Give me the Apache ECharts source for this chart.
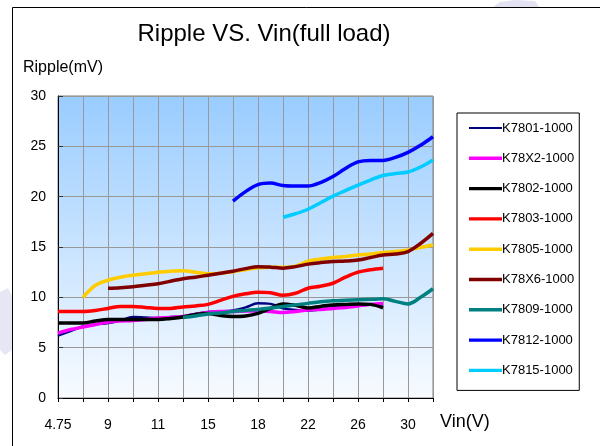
<!DOCTYPE html>
<html><head><meta charset="utf-8">
<script src="https://cdn.jsdelivr.net/npm/echarts@6/dist/echarts.min.js"></script>
<style>html,body{margin:0;padding:0;background:#fff}#c{width:600px;height:446px}</style>
</head><body><div id="c"></div>
<script>
// x positions in half-grid steps (31 points); labels shown at every 4th step
const xCats = ['0','1','2','3','4','5','6','7','8','9','10','11','12','13','14','15','16','17','18','19','20','21','22','23','24','25','26','27','28','29','30'];
const xTickLabels = ['4.75','9','11','15','18','22','26','30'];
const yTicks = [0,5,10,15,20,25,30];

const K7801 = [6.2,6.65,7.1,7.3,7.45,7.7,8.05,8.0,7.95,8.05,8.1,8.35,8.55,8.6,8.7,9.0,9.4,9.35,8.9,8.75,8.7,8.8,9.0,9.1,9.2,9.3,9.3,null,null,null,null];
const K78X2 = [6.45,6.8,7.05,7.3,7.55,7.65,7.7,7.8,7.95,8.0,8.1,8.3,8.5,8.6,8.6,8.65,8.65,8.6,8.5,8.6,8.75,8.8,8.9,9.0,9.15,9.3,9.4,null,null,null,null];
const K7802 = [7.45,7.45,7.45,7.65,7.8,7.8,7.8,7.8,7.8,7.9,8.05,8.3,8.4,8.2,8.1,8.15,8.4,8.9,9.35,9.2,8.95,9.1,9.25,9.3,9.35,9.3,8.95,null,null,null,null];
const K7803 = [8.6,8.6,8.6,8.7,8.9,9.1,9.1,9.0,8.9,8.9,9.05,9.15,9.3,9.7,10.1,10.35,10.5,10.45,10.2,10.4,10.9,11.1,11.4,12.0,12.5,12.75,12.9,null,null,null,null];
const K7805 = [null,null,10.0,11.2,11.7,12.0,12.2,12.35,12.5,12.6,12.65,12.5,12.35,12.4,12.55,12.75,12.95,13.0,13.0,13.1,13.6,13.8,13.95,14.05,14.2,14.3,14.45,14.55,14.7,14.95,15.2];
const K78X6 = [null,null,null,null,10.9,10.95,11.05,11.2,11.35,11.6,11.85,12.0,12.2,12.4,12.6,12.85,13.05,13.0,12.9,13.05,13.3,13.45,13.55,13.6,13.7,13.95,14.2,14.3,14.55,15.35,16.35];
const K7809 = [null,null,null,null,null,null,null,null,null,null,8.0,8.15,8.35,8.45,8.6,8.7,8.8,8.95,9.1,9.25,9.4,9.55,9.65,9.7,9.75,9.8,9.85,9.6,9.35,10.0,10.85];
const K7812 = [null,null,null,null,null,null,null,null,null,null,null,null,null,null,19.55,20.5,21.2,21.35,21.1,21.05,21.05,21.4,22.0,22.8,23.45,23.6,23.6,23.9,24.4,25.1,25.95];
const K7815 = [null,null,null,null,null,null,null,null,null,null,null,null,null,null,null,null,null,null,17.95,18.3,18.75,19.4,20.05,20.6,21.15,21.65,22.1,22.3,22.45,22.95,23.65];

const seriesNames = ['K7801-1000','K78X2-1000','K7802-1000','K7803-1000','K7805-1000','K78X6-1000','K7809-1000','K7812-1000','K7815-1000'];
const seriesData = [K7801,K78X2,K7802,K7803,K7805,K78X6,K7809,K7812,K7815];
const seriesColors = ['#000080','#FF00FF','#000000','#FF0000','#FFCC00','#800000','#008080','#0000FF','#00CCFF'];
const seriesWidths = [2.5,3.5,3.5,3.5,3.5,3.5,3.5,3.5,3.5];
const legendBarHeights = [2.2,3.4,3.4,3.4,3.4,3.4,3.4,3.4,3.4];

const FONT = 'Liberation Sans, Arial, sans-serif';
const chart = echarts.init(document.getElementById('c'), null, {renderer:'canvas'});
chart.setOption({
  animation:false,
  backgroundColor:'#ffffff',
  textStyle:{fontFamily:FONT},
  title:{text:'Ripple VS. Vin(full load)', left:259, top:17, textAlign:'center',
    textStyle:{fontFamily:FONT,fontSize:24,fontWeight:'normal',color:'#000'}},
  graphic:[
    {type:'polygon', shape:{points:[[0,292],[8,288],[12,296],[12,350],[5,355],[0,350]]}, style:{fill:'#E6E6F4'}, z:-2},
    {type:'polygon', shape:{points:[[492,8],[500,2],[515,0],[535,1],[540,8]]}, style:{fill:'#E2E2F2'}, z:-2},
    {type:'rect', shape:{x:12.5,y:7.5,width:700,height:600}, style:{fill:'none',stroke:'#000',lineWidth:1}, z:-1},
    {type:'text', left:23, top:60, style:{text:'Ripple(mV)', font:'16px '+FONT, fill:'#000'}},
    {type:'text', left:440, top:413, style:{text:'Vin(V)', font:'18px '+FONT, fill:'#000'}}
  ],
  legend:{
    orient:'vertical', left:457, top:113,
    padding:[8,5,13,12], itemGap:16.3, itemWidth:33, itemHeight:14,
    borderColor:'#000', borderWidth:1, backgroundColor:'#fff',
    textStyle:{fontFamily:FONT,fontSize:13,lineHeight:14,color:'#000',padding:[0,0,0,-5]},
    data:seriesNames.map(function(n,k){
      var h = legendBarHeights[k], t = (14-h)/2;
      return {name:n, icon:'path://M0,0L33,0L33,0.01L0,0.01Z M0,'+t+'L33,'+t+'L33,'+(t+h)+'L0,'+(t+h)+'Z M0,13.99L33,13.99L33,14L0,14Z'};
    })
  },
  grid:{left:58, right:167, top:96, bottom:48, show:true, borderColor:'#808080', borderWidth:1,
    backgroundColor:{type:'linear',x:0,y:0,x2:0,y2:1,colorStops:[{offset:0,color:'#99CCFF'},{offset:1,color:'#F8FBFF'}]}},
  xAxis:{type:'category', data:xCats, boundaryGap:false,
    axisLine:{lineStyle:{color:'#000',width:1}},
    axisTick:{show:true, interval:1, length:4, lineStyle:{color:'#000'}},
    splitLine:{show:true, interval:1, lineStyle:{color:'#999',width:1}},
    axisLabel:{interval:0, margin:20, fontSize:14, color:'#000', fontFamily:FONT,
      formatter:function(v,i){return i%4===0 ? xTickLabels[i/4] : '';}}
  },
  yAxis:{type:'value', min:yTicks[0], max:yTicks[yTicks.length-1], interval:5,
    axisLine:{show:true,lineStyle:{color:'#000',width:1}},
    axisTick:{show:true, inside:true, length:5, lineStyle:{color:'#333'}},
    splitLine:{show:true, lineStyle:{color:'#999',width:1}},
    axisLabel:{margin:12, fontSize:14, color:'#000', fontFamily:FONT}
  },
  series: seriesNames.map(function(n,k){return {
    name:n, type:'line', data:seriesData[k], smooth:0.35, symbol:'none', showSymbol:false,
    connectNulls:false, color:seriesColors[k],
    lineStyle:{color:seriesColors[k], width:seriesWidths[k]}
  };})
});
</script></body></html>
